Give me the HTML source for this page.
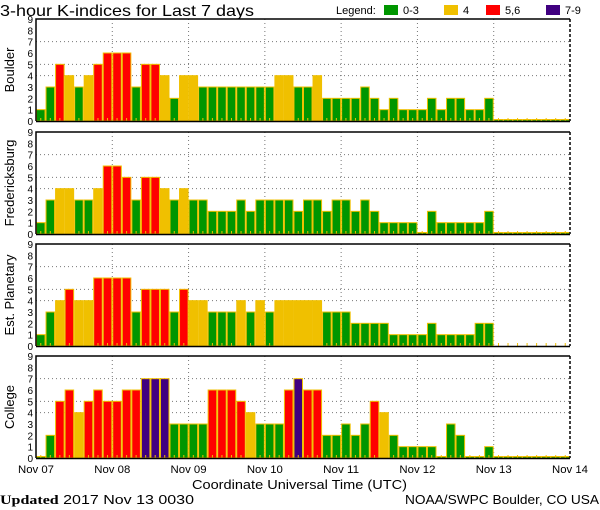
<!DOCTYPE html>
<html><head><meta charset="utf-8"><style>
body{margin:0;background:#fff;}
svg{display:block;font-family:"Liberation Sans",sans-serif;}
</style></head><body>
<svg id="chart" width="600" height="510" viewBox="0 0 600 510">
<text x="0" y="16" font-size="16" textLength="254" lengthAdjust="spacingAndGlyphs">3-hour K-indices for Last 7 days</text>
<g font-size="11">
<text x="336" y="14">Legend:</text>
<rect x="384" y="5" width="14" height="10" fill="#009600"/>
<text x="403" y="14">0-3</text>
<rect x="444" y="5" width="14" height="10" fill="#f0c000"/>
<text x="463" y="14">4</text>
<rect x="486" y="5" width="14" height="10" fill="#ff0000"/>
<text x="505" y="14">5,6</text>
<rect x="546" y="5" width="14" height="10" fill="#400080"/>
<text x="565" y="14">7-9</text>
</g>
<text x="192" y="489" font-size="13" textLength="215" lengthAdjust="spacingAndGlyphs">Coordinate Universal Time (UTC)</text>
<text x="0" y="504" font-size="13" textLength="194" lengthAdjust="spacingAndGlyphs"><tspan font-weight="bold" font-family="Liberation Serif,serif">Updated</tspan> 2017 Nov 13 0030</text>
<text x="405" y="504" font-size="13" textLength="194" lengthAdjust="spacingAndGlyphs">NOAA/SWPC Boulder, CO USA</text>
</svg>
<script>
const stations = ["Boulder","Fredericksburg","Est. Planetary","College"];
const boulder = [1,3,5,4,3,4,5,6,6,6,3,5,5,4,2,4,4,3,3,3,3,3,3,3,3,4,4,3,3,4,2,2,2,2,3,2,1,2,1,1,1,2,1,2,2,1,1,2,0,0,0,0,0,0,0,0];
const fredericksburg = [1,3,4,4,3,3,4,6,6,5,3,5,5,4,3,4,3,3,2,2,2,3,2,3,3,3,3,2,3,3,2,3,3,2,3,2,1,1,1,1,0,2,1,1,1,1,1,2,0,0,0,0,0,0,0,0];
const planetary = [1,3,4,5,4,4,6,6,6,6,3,5,5,5,3,5,4,4,3,3,3,4,3,4,3,4,4,4,4,4,3,3,3,2,2,2,2,1,1,1,1,2,1,1,1,1,2,2,null,null,null,null,null,null,null,null];
const college = [0,2,5,6,4,5,6,5,5,6,6,7,7,7,3,3,3,3,6,6,6,5,4,3,3,3,6,7,6,6,2,2,3,2,3,5,4,2,1,1,1,1,0,3,2,0,0,1,0,0,0,0,0,0,0,0];
const dayLabels = ["Nov 07","Nov 08","Nov 09","Nov 10","Nov 11","Nov 12","Nov 13","Nov 14"];
const yTicks = [0,1,2,3,4,5,6,7,8,9];
const gridLevels = [4,5,7];

const series = [boulder, fredericksburg, planetary, college];
const panelTops = [19,132,244,356];
const X0 = 36, X1 = 570, PH = 102;
const NS = "http://www.w3.org/2000/svg";
const svg = document.getElementById('chart');
const bw = (X1 - X0) / 56;
const xScale = i => X0 + i * bw;
function mk(tag, attrs, parent){const e=document.createElementNS(NS,tag);for(const k in attrs)e.setAttribute(k,attrs[k]);(parent||svg).appendChild(e);return e;}
function color(v){return v<=3?"#009600":v==4?"#f0c000":v<=6?"#ff0000":"#400080";}

series.forEach((data, p) => {
  const top = panelTops[p], bot = top + PH;
  const yScale = v => bot - v * PH / 9;
  const g = mk('g', {});
  
  
  gridLevels.forEach(l => {
    const ln = mk('line', {x1:X0, x2:X1, y1:yScale(l), y2:yScale(l), stroke:"#777", "stroke-dasharray":"1,3"}, g);
    
    
  });
  for (let d = 1; d < 7; d++) {
    const x = xScale(d*8);
    const ln = mk('line', {x1:x, x2:x, y1:top, y2:bot, stroke:"#777", "stroke-dasharray":"1,3"}, g);
    
    
  }
  data.forEach((v, i) => {
    const x = xScale(i);
    if (v === null) {
      const t = mk('line', {x1:x+bw/2, x2:x+bw/2, y1:bot-3, y2:bot, stroke:"#f0c000"}, g);
      
      
      return;
    }
    const h = Math.max(v * PH / 9, 1.5);
    const r = mk('rect', {x:x+0.5, y:bot-h, width:bw-1, height:h, fill:color(v), stroke:"#f0c000", "stroke-width":1}, g);
    
    
    const t = mk('line', {x1:x+bw/2, x2:x+bw/2, y1:bot-3, y2:bot, stroke:"#f0c000"}, g);
    
    
  });
  const fr = mk('path', {d:`M${X0},${bot} V${top} H${X1}`, fill:"none", stroke:"#000", "stroke-width":1.5}, g);
  
  
  const bl = mk('line', {x1:X0, x2:X1, y1:bot+0.5, y2:bot+0.5, stroke:"#000", "stroke-width":1.5}, g);
  
  
  const rl = mk('line', {x1:X1, x2:X1, y1:top, y2:bot, stroke:"#000", "stroke-width":1.5, "stroke-dasharray":"3,2"}, g);
  
  
  yTicks.forEach(t => {
    const tx = mk('text', {x:33, y:yScale(t)+4, "font-size":10, "text-anchor":"end"}, g);
    tx.textContent = t;
    
    
  });
  const yl = mk('text', {x:0, y:0, "font-size":13, "text-anchor":"middle", transform:`translate(14,${top+PH/2}) rotate(-90)`}, g);
  yl.textContent = stations[p];
  
  
});
dayLabels.forEach((l, d) => {
  const tx = mk('text', {x:xScale(d*8), y:473, "font-size":11, "text-anchor":"middle", textLength:36, lengthAdjust:"spacingAndGlyphs"});
  tx.textContent = l;
  
  
});
</script>
</body></html>
